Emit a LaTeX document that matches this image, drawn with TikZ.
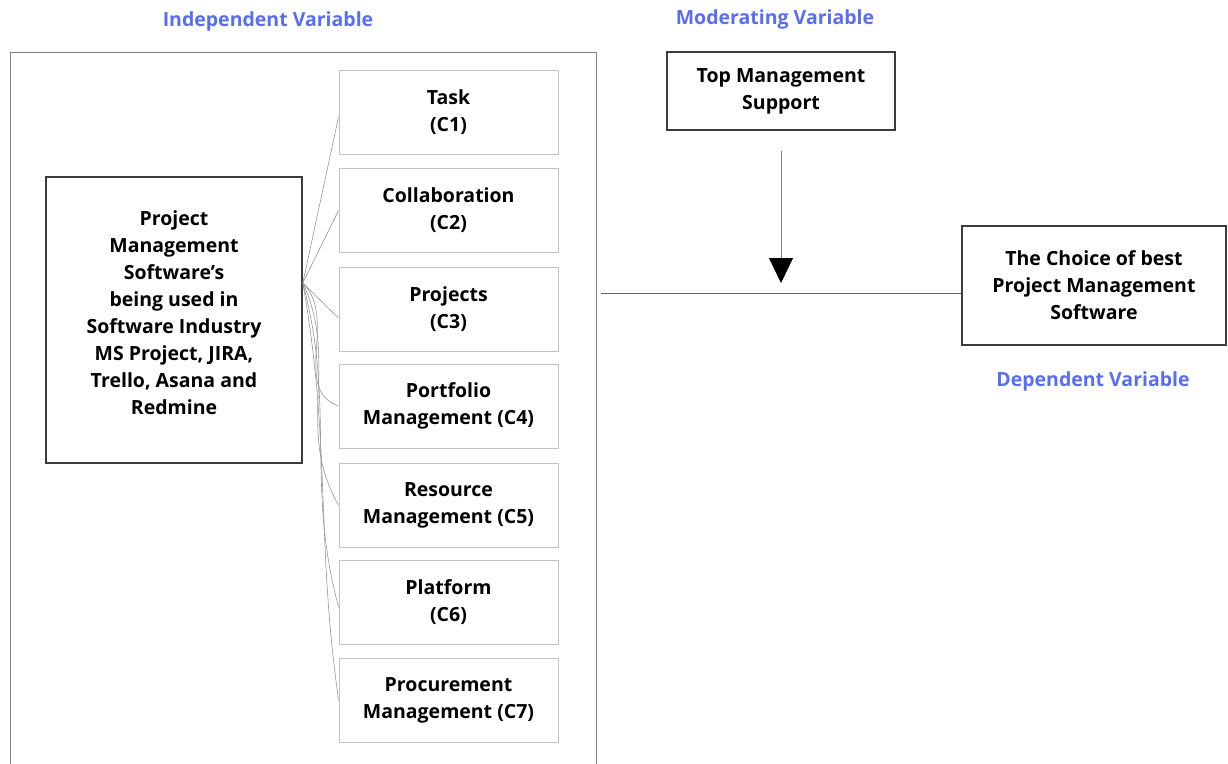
\documentclass[tikz,border=0pt]{standalone}
\usepackage{fontspec}
\setmainfont{Open Sans}
\usetikzlibrary{arrows.meta}
\definecolor{varblue}{RGB}{88,110,242}
\definecolor{boxline}{RGB}{60,60,60}
\definecolor{subline}{RGB}{195,195,195}
\definecolor{conn}{RGB}{150,150,150}
\tikzset{
  txt/.style={font=\fontsize{19.5}{27}\selectfont\bfseries, align=center, text=black},
  vartitle/.style={font=\fontsize{19.5}{22}\selectfont\bfseries, text=varblue},
  mainbox/.style={txt, draw=boxline, line width=1.6pt, inner sep=0pt},
  subbox/.style={txt, draw=subline, line width=1pt, minimum width=219pt, minimum height=84pt, inner sep=0pt},
  connline/.style={draw=conn, line width=0.6pt},
}
\begin{document}
\begin{tikzpicture}[x=1pt,y=1pt]
\useasboundingbox (0,0) rectangle (1228,-763);
% titles
\node[vartitle] (tind) at (268,-21) {Independent Variable};
\node[vartitle] (tmod) at (775,-19) {Moderating Variable};
\node[vartitle] (tdep) at (1093,-381) {Dependent Variable};
% outer frame
\draw[draw=gray, line width=0.9pt] (10,-770) -- (10,-52) -- (596,-52) -- (596,-770);
% main box
\node[mainbox, minimum width=256pt, minimum height=286pt] (pms) at (174,-320) {};
\node[txt] (pmstext) at ([yshift=7pt]pms.center)
  {Project\\Management\\Software's\\being used in\\Software Industry\\MS Project, JIRA,\\Trello, Asana and\\Redmine};
% criteria boxes
\node[subbox] (c1) at (448.5,-112) {Task\\(C1)};
\node[subbox] (c2) at (448.5,-210.5) {Collaboration\\(C2)};
\node[subbox] (c3) at (448.5,-309) {Projects\\(C3)};
\node[subbox] (c4) at (448.5,-406) {Portfolio\\Management (C4)};
\node[subbox] (c5) at (448.5,-505) {Resource\\Management (C5)};
\node[subbox] (c6) at (448.5,-602) {Platform\\(C6)};
\node[subbox] (c7) at (448.5,-700) {Procurement\\Management (C7)};
% connectors
\coordinate (src) at ([yshift=37pt]pms.east);
\draw[connline] (src) -- ([yshift=-5pt]c1.west);
\draw[connline] (src) -- (c2.west);
\draw[connline] (src) -- ([yshift=-9pt]c3.west);
\draw[connline] (src) to[out=-45, in=160] (c4.west);
\draw[connline] (src) to[out=-65, in=120] (c5.west);
\draw[connline] (src) to[out=-75, in=105] ([yshift=-5pt]c6.west);
\draw[connline] (src) to[out=-80, in=98] (c7.west);
% moderating
\node[mainbox, minimum width=228pt, minimum height=78pt] (tms) at (781,-91) {Top Management\\Support};
\node[mainbox, minimum width=264pt, minimum height=119pt] (dep) at (1094,-285.5) {The Choice of best\\Project Management\\Software};
\coordinate (hl) at (601,-293);
\draw[draw=boxline!80, line width=0.9pt] (hl) -- (hl -| dep.west);
\coordinate (a1) at ([yshift=-20pt]tms.south);
\coordinate (a2) at (781,-283);
\draw[draw=gray, line width=0.9pt, -{Triangle[width=24pt,length=25pt,color=black,fill=black]}] (a1) -- (a2);
\end{tikzpicture}
\end{document}
